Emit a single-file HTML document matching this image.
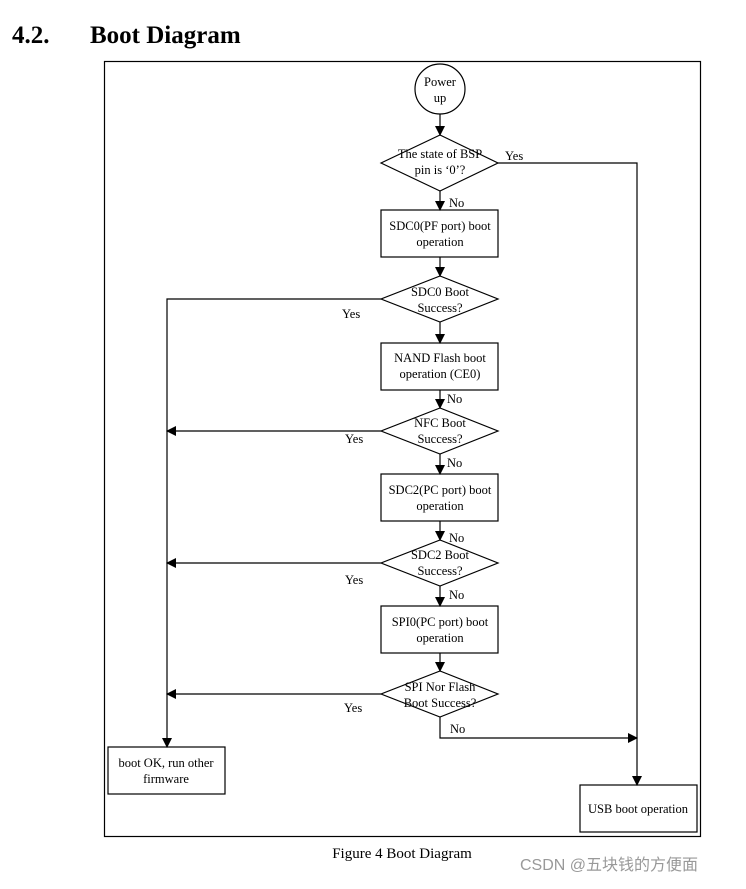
<!DOCTYPE html>
<html><head><style>
body{margin:0;background:#fff;width:746px;height:884px;overflow:hidden}
svg text{font-family:"Liberation Serif",serif;fill:#000}
</style></head><body>
<svg width="746" height="884" xmlns="http://www.w3.org/2000/svg">
<defs><marker id="a" markerWidth="10" markerHeight="10" refX="9" refY="5" orient="auto" markerUnits="userSpaceOnUse"><path d="M0,0 L10,5 L0,10z" fill="#000"/></marker></defs>
<text x="12" y="43" font-size="25" font-weight="bold">4.2.</text>
<text x="90" y="43" font-size="25" font-weight="bold">Boot Diagram</text>
<rect x="104.5" y="61.5" width="596" height="775" fill="none" stroke="#000" stroke-width="1.2"/>
<g fill="none" stroke="#000" stroke-width="1.2">
<circle cx="440" cy="89" r="25" fill="#fff"/>
<path d="M381,163 L440,135 L498,163 L440,191z"/>
<rect x="381" y="210" width="117" height="47"/>
<path d="M381,299 L440,276 L498,299 L440,322z"/>
<rect x="381" y="343" width="117" height="47"/>
<path d="M381,431 L440,408 L498,431 L440,454z"/>
<rect x="381" y="474" width="117" height="47"/>
<path d="M381,563 L440,540 L498,563 L440,586z"/>
<rect x="381" y="606" width="117" height="47"/>
<path d="M381,694 L440,671 L498,694 L440,717z"/>
<rect x="108" y="747" width="117" height="47"/>
<rect x="580" y="785" width="117" height="47"/>
<path d="M440,114 V135" marker-end="url(#a)"/>
<path d="M440,191 V210" marker-end="url(#a)"/>
<path d="M440,257 V276" marker-end="url(#a)"/>
<path d="M440,322 V343" marker-end="url(#a)"/>
<path d="M440,390 V408" marker-end="url(#a)"/>
<path d="M440,454 V474" marker-end="url(#a)"/>
<path d="M440,521 V540" marker-end="url(#a)"/>
<path d="M440,586 V606" marker-end="url(#a)"/>
<path d="M440,653 V671" marker-end="url(#a)"/>
<path d="M498,163 H637 V785" marker-end="url(#a)"/>
<path d="M440,717 V738 H637" marker-end="url(#a)"/>
<path d="M381,299 H167 V747" marker-end="url(#a)"/>
<path d="M381,431 H167" marker-end="url(#a)"/>
<path d="M381,563 H167" marker-end="url(#a)"/>
<path d="M381,694 H167" marker-end="url(#a)"/>
</g>
<g font-size="12.5" text-anchor="middle">
<text x="440" y="86">Power</text><text x="440" y="102">up</text>
<text x="440" y="158">The state of BSP</text><text x="440" y="174">pin is ‘0’?</text>
<text x="440" y="230">SDC0(PF port) boot</text><text x="440" y="246">operation</text>
<text x="440" y="296">SDC0 Boot</text><text x="440" y="312">Success?</text>
<text x="440" y="362">NAND Flash boot</text><text x="440" y="378">operation (CE0)</text>
<text x="440" y="427">NFC Boot</text><text x="440" y="443">Success?</text>
<text x="440" y="494">SDC2(PC port) boot</text><text x="440" y="510">operation</text>
<text x="440" y="559">SDC2 Boot</text><text x="440" y="575">Success?</text>
<text x="440" y="626">SPI0(PC port) boot</text><text x="440" y="642">operation</text>
<text x="440" y="691">SPI Nor Flash</text><text x="440" y="707">Boot Success?</text>
<text x="166" y="767">boot OK, run other</text><text x="166" y="783">firmware</text>
<text x="638" y="813">USB boot operation</text>
</g>
<g font-size="12.5">
<text x="505" y="160">Yes</text>
<text x="449" y="207">No</text>
<text x="342" y="318">Yes</text>
<text x="447" y="403">No</text>
<text x="345" y="443">Yes</text>
<text x="447" y="467">No</text>
<text x="449" y="542">No</text>
<text x="345" y="584">Yes</text>
<text x="449" y="599">No</text>
<text x="344" y="712">Yes</text>
<text x="450" y="733">No</text>
</g>
<text x="402" y="858" font-size="15" text-anchor="middle">Figure 4 Boot Diagram</text>
<text x="520" y="870" font-size="16" style="font-family:'Liberation Sans','Noto Sans CJK SC',sans-serif;fill:#999">CSDN @五块钱的方便面</text>
</svg>
</body></html>
